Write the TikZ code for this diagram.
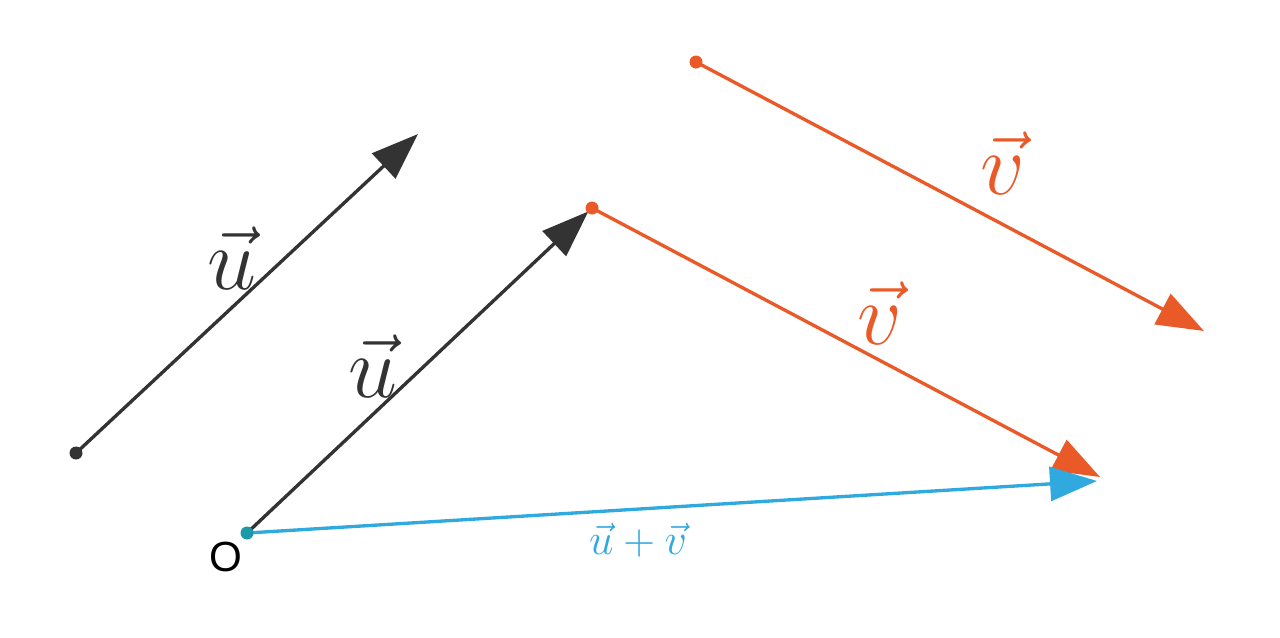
\RequirePackage{fix-cm}
\documentclass[tikz,border=0pt]{standalone}
\usepackage{fontspec}
\newfontfamily\originfont{Liberation Sans}
\usetikzlibrary{arrows.meta}
\definecolor{darkgrey}{HTML}{333333}
\definecolor{vorange}{HTML}{E95A28}
\definecolor{sumblue}{HTML}{2FA9DE}
\definecolor{origteal}{HTML}{1A9AA8}

\begin{document}
\begin{tikzpicture}[
        x=0.02cm, y=-0.02cm,
        vecline/.style={line width=1.9pt, -{Triangle[length=0.94cm, width=0.68cm]}},
        biglabel/.style={font=\fontsize{50}{60}\selectfont},
        sumlabel/.style={font=\fontsize{25}{30}\selectfont, text=sumblue}
    ]
        \useasboundingbox (0,0) rectangle (1280,637);

        % end points
        \coordinate (ustart) at (76,453);
        \coordinate (uend) at (418,134);
        \coordinate (o) at (247,533);
        \coordinate (p) at (592,208);
        \coordinate (vstart) at (696,62);
        \coordinate (vend) at (1204,331);
        \coordinate (q) at (1100,477);
        \coordinate (sumend) at (1097,481);

        \draw[vecline, darkgrey] (ustart) -- (uend);
        \draw[vecline, vorange] (vstart) -- (vend);
        \draw[vecline, darkgrey, shorten >=0.1cm] (o) -- (p);
        \draw[vecline, vorange] (p) -- (q);
        \draw[vecline, sumblue] (o) -- (sumend);

        \foreach \pt/\col in {ustart/darkgrey, o/origteal, p/vorange, vstart/vorange}
            \fill[\col] (\pt) circle (0.13cm);

        % labels
        \node[biglabel, text=darkgrey] (ulabel) at (232,258) {$\vec{u}$};
        \node[biglabel, text=darkgrey] (ulabelmid) at (373,366) {$\vec{u}$};
        \node[biglabel, text=vorange] (vlabel) at (1003,163) {$\vec{v}$};
        \node[biglabel, text=vorange] (vlabelmid) at (880,313) {$\vec{v}$};
        \node[sumlabel] (sum) at (638,540) {$\vec{u}+\vec{v}$};
        \node[font=\originfont\fontsize{24}{28}\selectfont] (olabel) at (226,557) {O};
    \end{tikzpicture}
\end{document}
